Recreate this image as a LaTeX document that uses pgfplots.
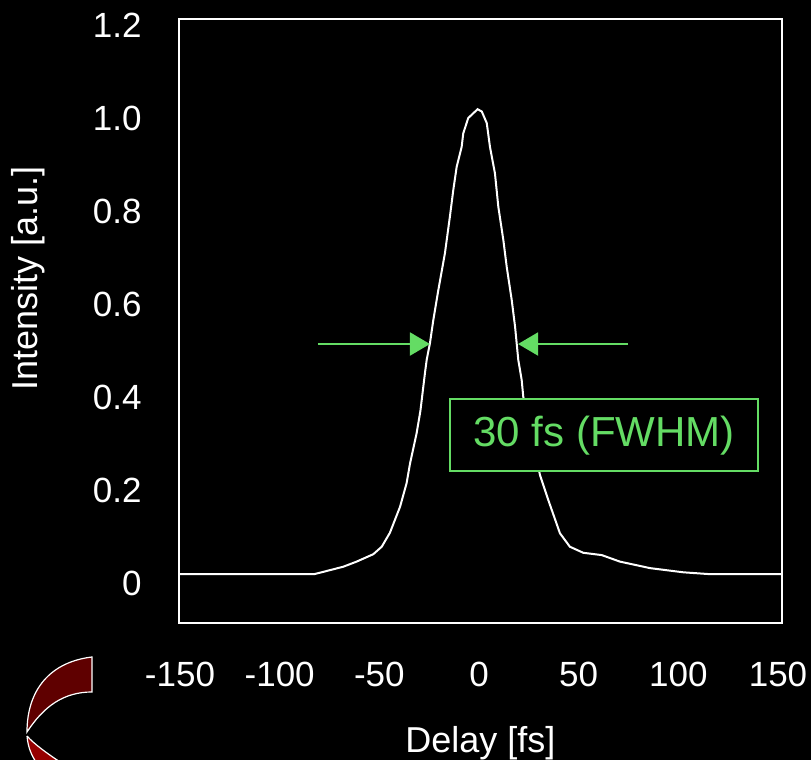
\documentclass[border=0pt]{standalone}
\usepackage{pgfplots}
\pgfplotsset{compat=1.18}
\usetikzlibrary{arrows.meta}
\usepackage{fontspec}
\setmainfont{Liberation Sans}
\definecolor{fwhmgreen}{RGB}{100,220,100}
\definecolor{logodark}{RGB}{95,0,0}
\definecolor{logored}{RGB}{150,0,0}

\begin{document}
\begin{tikzpicture}
\path[fill=black, use as bounding box] (0,0) rectangle (405.5pt,380pt);
% logo corner
\draw[white, line width=0.6pt, fill=logodark]
  (46pt,51.5pt) .. controls (25pt,49pt) and (13.5pt,35pt) .. (13.5pt,14pt)
  .. controls (22pt,27pt) and (32pt,34pt) .. (46pt,34pt) -- cycle;
\draw[white, line width=0.6pt, fill=logored]
  (13.5pt,12pt) .. controls (14pt,6pt) and (16pt,2pt) .. (18pt,-1pt)
  -- (30pt,-1pt) .. controls (24pt,3pt) and (17pt,8pt) .. (13.5pt,12pt);
\begin{axis}[
  at={(89.5pt,68.5pt)}, anchor=south west,
  scale only axis, width=301.5pt, height=302pt,
  xmin=-150.5, xmax=152, ymin=-0.086, ymax=1.213,
  axis line style={white, line width=0.8pt},
  major tick length=0pt,
  xticklabel shift=0pt, yticklabel shift=0pt,
  xtick={-150,-100,-50,0,50,100,150},
  xticklabels={-150,-100,-50,0,50,100,150},
  ytick={0,0.2,0.4,0.6,0.8,1.0,1.2},
  yticklabels={0,0.2,0.4,0.6,0.8,1.0,1.2},
  ticklabel style={white, inner sep=0pt, font=\fontsize{17.5}{20}\selectfont},
  xticklabel style={anchor=base, yshift=-32pt},
  yticklabel style={anchor=east, xshift=-18.5pt},
  xlabel={Delay [fs]},
  ylabel={Intensity [a.u.]},
  xlabel style={at={(axis description cs:0.5,-0.2136)}, anchor=base, inner sep=0pt,
    white, font=\fontsize{18}{20}\selectfont},
  ylabel style={at={(axis description cs:-0.2504,0.57)}, anchor=center,
    white, font=\fontsize{18}{20}\selectfont},
]
\addplot[white, line width=1pt] coordinates {
  (-150.5,0.019) (-82.8,0.019) (-78.1,0.024) (-68.1,0.035) (-61.4,0.046)
  (-53.0,0.062) (-48.8,0.078) (-44.7,0.108) (-39.6,0.164) (-36.3,0.215)
  (-34.6,0.257) (-31.3,0.322) (-29.4,0.370) (-27.1,0.452) (-26.2,0.481)
  (-24.6,0.516) (-22.9,0.566) (-20.4,0.630) (-17.1,0.709) (-14.6,0.788)
  (-12.9,0.845) (-11.2,0.895) (-8.7,0.938) (-7.9,0.967) (-5.4,1.000)
  (-0.7,1.019) (1.4,1.014) (3.9,0.989) (5.5,0.938) (8.0,0.881)
  (9.7,0.809) (12.2,0.738) (13.9,0.680) (16.4,0.609) (18.1,0.551)
  (19.7,0.480) (21.4,0.437) (22.2,0.401) (30.6,0.232) (34.8,0.178)
  (40.6,0.107) (45.6,0.078) (52.3,0.065) (61.6,0.060) (70.7,0.046)
  (85.8,0.032) (102.5,0.023) (115.9,0.019) (152,0.019)
};
% FWHM arrows
\draw[fwhmgreen, line width=1pt, -{Triangle[length=10pt,width=11.5pt]}]
  (axis cs:-80.8,0.514) -- (axis cs:-24.6,0.514);
\draw[fwhmgreen, line width=1pt, -{Triangle[length=10pt,width=11.5pt]}]
  (axis cs:74.8,0.514) -- (axis cs:19.6,0.514);
% label box
\draw[fwhmgreen, line width=1pt, fill=black]
  (axis cs:-14.6,0.241) rectangle (axis cs:140,0.396);
\node[fwhmgreen, font=\fontsize{21}{24}\selectfont, inner sep=0pt]
  at (axis cs:62.7,0.318) {30 fs (FWHM)};
\end{axis}
\end{tikzpicture}
\end{document}
